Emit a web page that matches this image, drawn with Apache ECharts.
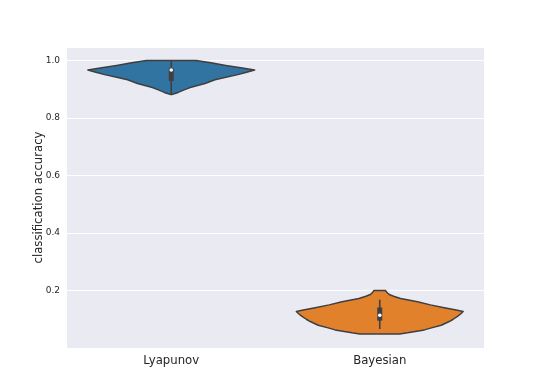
<!DOCTYPE html>
<html>
<head>
<meta charset="utf-8">
<script src="https://cdn.jsdelivr.net/npm/echarts@6/dist/echarts.min.js"></script>
<style>
html,body{margin:0;padding:0;background:#fff;}
#chart{width:538px;height:391px;}
</style>
</head>
<body>
<div id="chart"></div>
<script>
// ---- data ----
var categories = ['Lyapunov', 'Bayesian'];
var colors = ['#3274a1', '#e1812c'];

// violin profiles: accuracy levels (top to bottom) and relative density (half-width)
var lyapunovLevels  = [1.000, 0.992, 0.983, 0.975, 0.967, 0.958, 0.950, 0.942, 0.933, 0.920, 0.906, 0.898, 0.889, 0.882];
var lyapunovDensity = [25, 40, 55, 70, 84, 75, 66, 55, 44, 34, 19, 13, 7, 0.5];

var bayesianLevels  = [0.200, 0.194, 0.186, 0.180, 0.172, 0.161, 0.150, 0.140, 0.132, 0.127, 0.120, 0.112, 0.100, 0.092, 0.079, 0.070, 0.063, 0.053, 0.049];
var bayesianDensity = [6, 7, 9.5, 14, 21, 38, 51, 65, 77, 84, 82, 79, 74, 70, 62, 52, 45, 28, 20];

// inner box plots: [whiskerLow, q1, median, q3, whiskerHigh]
var lyapunovBox = [0.882, 0.929, 0.967, 0.973, 1.000];
var bayesianBox = [0.066, 0.095, 0.114, 0.141, 0.168];

var yTicks = [0.2, 0.4, 0.6, 0.8, 1.0];

var violins = [
  {levels: lyapunovLevels, density: lyapunovDensity, box: lyapunovBox},
  {levels: bayesianLevels, density: bayesianDensity, box: bayesianBox}
];

var chart = echarts.init(document.getElementById('chart'), null, {renderer: 'canvas'});

function renderViolin(params, api) {
  var idx = params.dataIndex;
  var v = violins[idx];
  var band = api.size([1, 0])[0];
  var halfMax = band * 0.4;
  var maxD = Math.max.apply(null, v.density);
  var right = [], left = [];
  for (var i = 0; i < v.levels.length; i++) {
    var p = api.coord([idx, v.levels[i]]);
    var w = v.density[i] / maxD * halfMax;
    right.push([p[0] + w, p[1]]);
    left.unshift([p[0] - w, p[1]]);
  }
  var pts = right.concat(left);
  var b = v.box;
  var pLow = api.coord([idx, b[0]]);
  var pQ1 = api.coord([idx, b[1]]);
  var pMed = api.coord([idx, b[2]]);
  var pQ3 = api.coord([idx, b[3]]);
  var pHigh = api.coord([idx, b[4]]);
  var cx = pMed[0];
  return {
    type: 'group',
    children: [
      {type: 'polygon', shape: {points: pts},
       style: {fill: colors[idx], stroke: '#3f3f3f', lineWidth: 1.5, lineJoin: 'round'}},
      {type: 'line', shape: {x1: cx, y1: pLow[1], x2: cx, y2: pHigh[1]},
       style: {stroke: '#3f3f3f', lineWidth: 1.6}},
      {type: 'rect', shape: {x: cx - 2.5, y: pQ3[1], width: 5, height: pQ1[1] - pQ3[1]},
       style: {fill: '#3f3f3f'}},
      {type: 'circle', shape: {cx: cx, cy: pMed[1], r: 1.8},
       style: {fill: '#ffffff'}}
    ]
  };
}

var option = {
  animation: false,
  backgroundColor: '#ffffff',
  grid: {left: 67, right: 54, top: 47, bottom: 43, show: true, backgroundColor: '#eaeaf2', borderWidth: 0},
  xAxis: {
    type: 'category',
    data: categories,
    boundaryGap: true,
    axisLine: {show: false},
    axisTick: {show: false},
    splitLine: {show: false},
    axisLabel: {color: '#262626', fontFamily: 'DejaVu Sans', fontSize: 11.7, margin: 7}
  },
  yAxis: {
    type: 'value',
    min: 0,
    max: 1.047,
    interval: 0.2,
    name: 'classification accuracy',
    nameLocation: 'middle',
    nameGap: 22,
    nameMoveOverlap: false,
    nameTextStyle: {color: '#262626', fontFamily: 'DejaVu Sans', fontSize: 11.7},
    axisLine: {show: false},
    axisTick: {show: false},
    splitLine: {show: true, lineStyle: {color: '#ffffff', width: 1}},
    axisLabel: {
      color: '#262626', fontFamily: 'DejaVu Sans', fontSize: 9, margin: 7,
      showMinLabel: false, showMaxLabel: false,
      formatter: function (val) {
        for (var i = 0; i < yTicks.length; i++) {
          if (Math.abs(yTicks[i] - val) < 1e-6) return yTicks[i].toFixed(1);
        }
        return '';
      }
    }
  },
  series: [{
    type: 'custom',
    renderItem: renderViolin,
    data: [[0, lyapunovBox[2]], [1, bayesianBox[2]]],
    encode: {x: 0, y: 1},
    clip: false
  }]
};
chart.setOption(option);
</script>
</body>
</html>
